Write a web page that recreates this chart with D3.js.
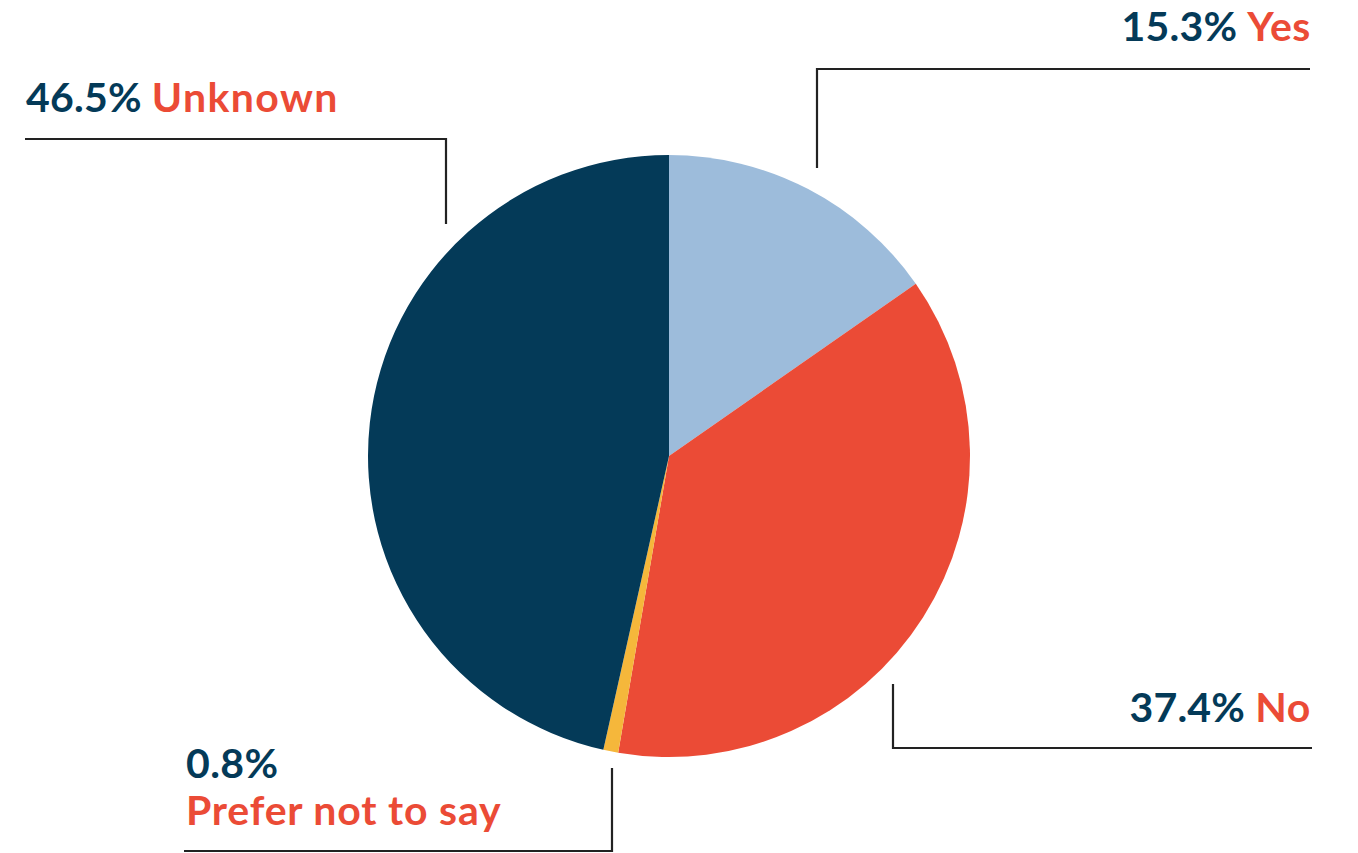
<!DOCTYPE html>
<html>
<head>
<meta charset="utf-8">
<script src="https://cdn.jsdelivr.net/npm/d3@7/dist/d3.min.js"></script>
<style>
  html, body { margin: 0; padding: 0; background: #ffffff; }
  svg { display: block; }
  text { font-family: Lato, "Open Sans", sans-serif; font-weight: 700; }
</style>
</head>
<body>
<svg id="chart" width="1358" height="853"></svg>
<script>
// Response shares (percent), in clockwise order from 12 o'clock
const categories = ["Yes", "No", "Prefer not to say", "Unknown"];
const values = [15.3, 37.4, 0.8, 46.5];
const sliceColors = ["#9dbcdb", "#eb4b36", "#f5b73b", "#043a58"];

const navy = "#043a58";
const red = "#eb4b36";

const svg = d3.select("#chart");
const cx = 669, cy = 456, radius = 301;

const pie = d3.pie().sort(null).value(d => d.value);
const arc = d3.arc().innerRadius(0).outerRadius(radius);

const data = categories.map((c, i) => ({ name: c, value: values[i], color: sliceColors[i] }));

const g = svg.append("g").attr("transform", `translate(${cx},${cy})`);
g.selectAll("path")
  .data(pie(data))
  .join("path")
  .attr("d", arc)
  .attr("fill", d => d.data.color);

// Callout layout: leader-line elbow paths and label anchors
const callouts = [
  { name: "Yes", path: [[817, 168], [817, 69], [1310, 69]], x: 1311, y: 41, anchor: "end", split: false },
  { name: "Unknown", path: [[446, 224], [446, 139], [25, 139]], x: 26, y: 112, anchor: "start", split: false },
  { name: "No", path: [[893, 684], [893, 748], [1312, 748]], x: 1311, y: 722, anchor: "end", split: false },
  { name: "Prefer not to say", path: [[612, 768], [612, 851], [184, 851]], x: 186, y: 778, anchor: "start", split: true }
];

const line = d3.line();
const fmt = v => d3.format(".1f")(v) + "%";
const fontSize = 41;

callouts.forEach(c => {
  const d = data.find(e => e.name === c.name);
  svg.append("path")
    .attr("d", line(c.path))
    .attr("fill", "none")
    .attr("stroke", "#222222")
    .attr("stroke-width", 2.2);

  if (c.split) {
    svg.append("text")
      .attr("x", c.x).attr("y", c.y)
      .attr("font-size", fontSize)
      .attr("letter-spacing", 0.4)
      .attr("fill", navy)
      .text(fmt(d.value));
    svg.append("text")
      .attr("x", c.x).attr("y", c.y + 47)
      .attr("font-size", fontSize)
      .attr("letter-spacing", 0.8)
      .attr("fill", red)
      .text(d.name);
  } else {
    const t = svg.append("text")
      .attr("x", c.x).attr("y", c.y)
      .attr("font-size", fontSize)
      .attr("text-anchor", c.anchor);
    t.append("tspan").attr("fill", navy).attr("letter-spacing", 0.2).text(fmt(d.value) + " ");
    t.append("tspan").attr("fill", red).attr("letter-spacing", c.anchor === "end" ? 0.6 : 1.4).text(d.name);
  }
});
</script>
</body>
</html>
